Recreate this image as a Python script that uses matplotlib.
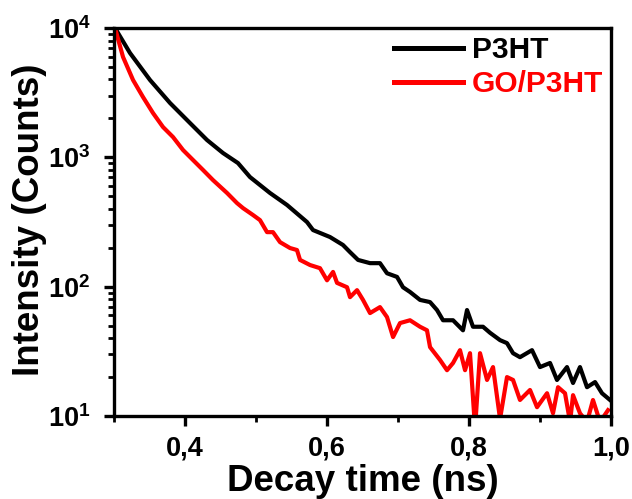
import math
import matplotlib
matplotlib.use("Agg")
import matplotlib.pyplot as plt
from matplotlib.ticker import MultipleLocator, LogLocator, FuncFormatter, NullFormatter

# P3HT decay
t_p3ht = [0.3014, 0.3225, 0.3507, 0.3789, 0.4070, 0.4310, 0.4535, 0.4746, 0.4915,
          0.5197, 0.5437, 0.5718, 0.5803, 0.6042, 0.6225, 0.6324, 0.6437, 0.6606,
          0.6746, 0.6845, 0.6986, 0.7070, 0.7169, 0.7310, 0.7451, 0.7549, 0.7634,
          0.7775, 0.7915, 0.7972, 0.8056, 0.8197, 0.8296, 0.8437, 0.8535, 0.8620,
          0.8718, 0.8887, 0.9000, 0.9141, 0.9239, 0.9380, 0.9465, 0.9563, 0.9662,
          0.9775, 0.9873, 0.9986]
i_p3ht = [10000, 6407, 3961, 2630, 1842, 1361, 1080, 903, 704,
          530, 428, 316, 274, 242, 210, 185, 161, 152,
          152, 127, 119, 99, 91, 79, 76, 66, 55,
          55, 46, 66, 49, 49, 44, 38.6, 36.6, 30.6,
          28.5, 32.3, 23.9, 25.7, 19.0, 23.9, 18.0, 23.9, 16.7,
          18.3, 15.0, 13.3]

# GO/P3HT decay
t_go = [0.3014, 0.3127, 0.3268, 0.3408, 0.3549, 0.3690, 0.3831, 0.3972, 0.4113,
        0.4254, 0.4394, 0.4592, 0.4732, 0.4817, 0.4958, 0.5056, 0.5155, 0.5239,
        0.5338, 0.5479, 0.5577, 0.5620, 0.5761, 0.5901, 0.6000, 0.6085, 0.6141,
        0.6282, 0.6324, 0.6423, 0.6507, 0.6606, 0.6746, 0.6845, 0.6930, 0.7028,
        0.7169, 0.7310, 0.7408, 0.7451, 0.7592, 0.7690, 0.7775, 0.7873, 0.7944,
        0.8014, 0.8085, 0.8155, 0.8254, 0.8338, 0.8437, 0.8535, 0.8620, 0.8718,
        0.8859, 0.8958, 0.9099, 0.9183, 0.9254, 0.9352, 0.9423, 0.9465, 0.9563,
        0.9662, 0.9746, 0.9845, 0.9958]
i_go = [10000, 5968, 3961, 2927, 2201, 1715, 1435, 1139, 953,
        798, 667, 530, 443, 405, 358, 327, 264, 264,
        221, 199, 192, 161, 147, 139, 112, 130, 107,
        99, 83, 94, 79, 62.5, 69.5, 58.2, 40.8, 52.3,
        55, 49, 46, 34.1, 27.1, 22.6, 25.7, 32.3, 22.6,
        30.6, 8.0, 30.6, 19.0, 23.9, 9.5, 20.0, 19.0, 13.3,
        15.9, 11.7, 15.0, 10.5, 16.7, 15.0, 9.0, 14.5, 10.5,
        9.0, 13.3, 9.0, 11.1]

labels = ["P3HT", "GO/P3HT"]
colors = ["black", "#ff0000"]

plt.rcParams["font.family"] = "Liberation Sans"
plt.rcParams["font.weight"] = "bold"
plt.rcParams["mathtext.fontset"] = "custom"
plt.rcParams["mathtext.bf"] = "Liberation Sans:bold"
plt.rcParams["mathtext.rm"] = "Liberation Sans:bold"

fig = plt.figure(figsize=(6.32, 4.99), dpi=100)
ax = fig.add_axes([0.1804, 0.1663, 0.7864, 0.7776])

ax.plot(t_p3ht, i_p3ht, color=colors[0], lw=3.0, label=labels[0])
ax.plot(t_go, i_go, color=colors[1], lw=3.0, label=labels[1])

ax.set_yscale("log")
ax.set_xlim(0.3, 1.0)
ax.set_ylim(10, 10000)

ax.xaxis.set_major_locator(MultipleLocator(0.2))
ax.xaxis.set_minor_locator(MultipleLocator(0.1))
ax.xaxis.set_major_formatter(FuncFormatter(lambda v, p: f"{v:.1f}".replace(".", ",")))
ax.yaxis.set_major_locator(LogLocator(base=10, numticks=10))
ax.yaxis.set_minor_locator(LogLocator(base=10, subs=range(2, 10), numticks=20))
ax.yaxis.set_major_formatter(FuncFormatter(lambda v, p: r"$\mathbf{10^{%d}}$" % round(math.log10(v))))
ax.yaxis.set_minor_formatter(NullFormatter())

for s in ax.spines.values():
    s.set_linewidth(2.4)
ax.tick_params(which="major", direction="out", length=7, width=2.4, labelsize=19.5, pad=7)
ax.tick_params(axis="y", which="major", pad=10)
ax.tick_params(which="minor", direction="out", length=4, width=2.0)
ax.tick_params(top=False, right=False, which="both")

ax.set_xlabel("Decay time (ns)", fontsize=26.5, fontweight="bold")
ax.set_ylabel("Intensity (Counts)", fontsize=26.5, fontweight="bold")
ax.xaxis.set_label_coords(0.5, -0.123)
ax.yaxis.set_label_coords(-0.135, 0.505)

leg = ax.legend(loc="upper right", bbox_to_anchor=(1.02, 1.025), frameon=False,
                fontsize=21.5, handlelength=2.3, handletextpad=0.3,
                labelspacing=0.2, labelcolor="linecolor", borderaxespad=0.2)
for line in leg.get_lines():
    line.set_linewidth(3.6)

fig.savefig("out.png", dpi=100)
